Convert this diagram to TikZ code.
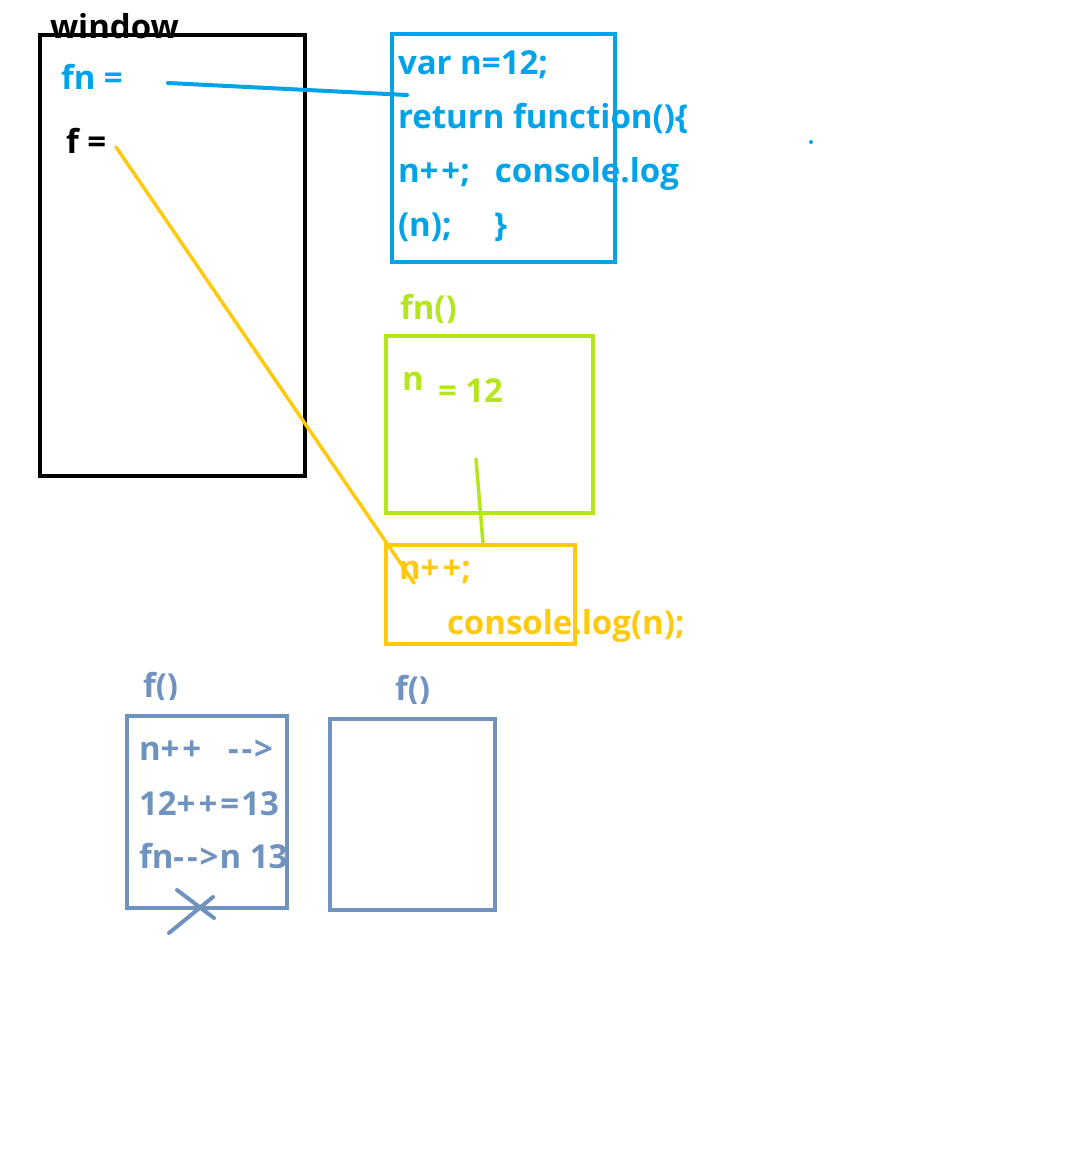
\documentclass[tikz,border=0pt]{standalone}
\usepackage{fontspec}
\setmainfont{Open Sans}
\definecolor{jsblue}{HTML}{00A2E8}
\definecolor{jsgreen}{HTML}{B5E61D}
\definecolor{jsgold}{HTML}{FFC90E}
\definecolor{jssteel}{HTML}{7092BE}
\newcommand{\plpl}{+\kern3pt+}
\newcommand{\darr}{-\kern3pt-\kern2pt>}
\begin{document}
\begin{tikzpicture}[x=1pt,y=-1pt,
  box/.style={draw, line width=4pt, inner sep=0pt, outer sep=0pt, anchor=north west},
  lbl/.style={anchor=base west, inner sep=0pt, outer sep=0pt, font=\fontsize{33}{33}\selectfont\bfseries},
  wire/.style={line width=4pt, line cap=round}]
\useasboundingbox (0,0) rectangle (1087,1151);
% window
\node[lbl, black] (wintitle) at (50,38) {window};
\node[box, draw=black, minimum width=265pt, minimum height=441pt] (win) at (40,35) {};
\node[lbl, jsblue] (fnlbl) at (61,89) {fn =};
\node[lbl, black] (flbl) at (66,153) {f =};
% code box
\node[box, draw=jsblue, minimum width=223pt, minimum height=228pt] (code) at (392,34) {};
\node[lbl, jsblue] (c1) at (398,74) {var n=12;};
\node[lbl, jsblue] (c2) at (398,128) {return function()\{};
\node[lbl, jsblue] (c3) at (398,182) {\rlap{n\plpl;}\hspace{97pt}console.log};
\node[lbl, jsblue] (c4) at (398,236) {\rlap{(n);}\hspace{96pt}\}};
\fill[jsblue] (811,142) circle (2);
\coordinate (fnend) at (168,83);
\coordinate (codept) at (407,95);
\draw[wire, jsblue] (fnend) -- (codept);
% fn()
\begin{scope}
\clip (380,280) rectangle (600,322);
\node[lbl, jsgreen] (fncall) at (400,319) {fn()};
\end{scope}
\node[box, draw=jsgreen, minimum width=207pt, minimum height=177pt] (scope1) at (386,336) {};
\node[lbl, jsgreen] (nvar) at (402,390) {n};
\node[lbl, jsgreen] (nval) at (438,402) {= 12};
% inner function
\node[box, draw=jsgold, minimum width=189pt, minimum height=99pt] (inner) at (386,545) {};
\node[lbl, jsgold] (i1) at (399,579) {n\plpl;};
\node[lbl, jsgold] (i2) at (447,634) {console.log(n);};
\coordinate (gstart) at (476,459);
\coordinate (gend) at (483,543);
\draw[wire, jsgreen, line width=3.5pt] (gstart) -- (gend);
\coordinate (fstart) at (116,147);
\coordinate (fend) at (414,583);
\draw[wire, jsgold, line width=3.5pt] (fstart) -- (fend);
% f() calls
\begin{scope}
\clip (120,660) rectangle (300,699);
\node[lbl, jssteel] (f1lbl) at (143,697) {f()};
\end{scope}
\begin{scope}
\clip (380,660) rectangle (500,703);
\node[lbl, jssteel] (f2lbl) at (395,700) {f()};
\end{scope}
\node[box, draw=jssteel, minimum width=160pt, minimum height=192pt] (call1) at (127,716) {};
\node[lbl, jssteel] (t1) at (139,760) {\rlap{n\plpl}\hspace{89pt}\darr};
\node[lbl, jssteel] (t2) at (139,815) {12\plpl\kern3pt=\kern2pt13};
\node[lbl, jssteel] (t3) at (139,868) {fn\darr\kern1pt n 13};
\node[box, draw=jssteel, minimum width=165pt, minimum height=191pt] (call2) at (330,719) {};
\coordinate (xa) at (169,933);
\coordinate (xb) at (213,897);
\coordinate (xc) at (177,890);
\coordinate (xd) at (214,918);
\draw[wire, jssteel] (xa) -- (xb);
\draw[wire, jssteel] (xc) -- (xd);
\end{tikzpicture}
\end{document}
